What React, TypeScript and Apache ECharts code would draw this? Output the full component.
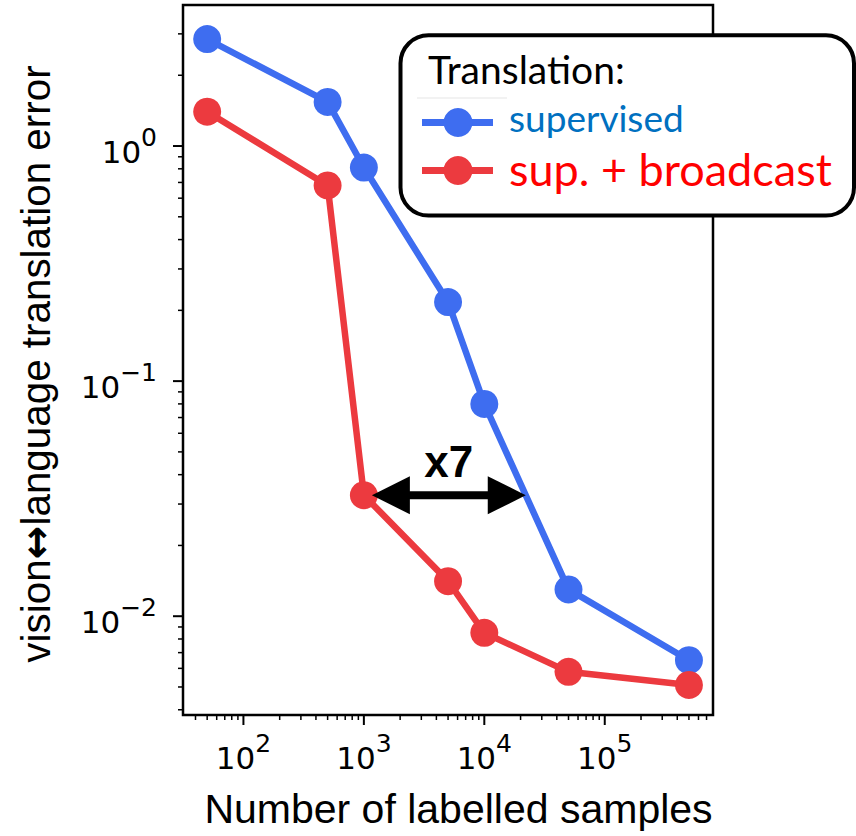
import React, { useEffect, useRef } from 'react';
import * as echarts from 'echarts';

// ---- data ----
const samples = [50, 500, 1000, 5000, 10000, 50000, 500000];
const supervised = [2.85, 1.54, 0.81, 0.217, 0.08, 0.013, 0.0065];
const supBroadcast = [1.4, 0.68, 0.0327, 0.0141, 0.0085, 0.0058, 0.0051];
const seriesNames = ['supervised', 'sup. + broadcast'];
const legendTitle = 'Translation:';
const xTitle = 'Number of labelled samples';
const yTitleLeft = 'vision';
const yTitleArrow = '↔';
const yTitleRight = 'language translation error';
const gapLabel = 'x7';
const gapFromSamples = 1000; // arrow starts at the red point at 10^3
const xMajorExponents = [1, 2, 3, 4, 5];
const yMajorExponents = [-3, -2, -1, 0];
const minorMultipliers = [2, 3, 4, 5, 6, 7, 8, 9];

const X_MIN = 31.5;
const X_MAX = 7.92e5;
const Y_MIN = 0.0038;
const Y_MAX = 3.98;

const BLUE = '#3E6DF0';
const RED = '#EC3A3F';

function logLabel(v: number) {
  const e = Math.log10(v);
  const r = Math.round(e);
  if (Math.abs(e - r) > 1e-6) return '';
  const s = r < 0 ? '\u2212' + Math.abs(r) : String(r);
  return '{b|10}{s|' + s + '}';
}

// tick marks: [x, y, kind] kind 0 x-major, 1 x-minor, 2 y-major, 3 y-minor
function buildTicks() {
  const out: number[][] = [];
  xMajorExponents.forEach((e) => {
    const base = Math.pow(10, e);
    if (base >= X_MIN && base <= X_MAX) out.push([base, Y_MIN, 0]);
    minorMultipliers.forEach((m) => {
      const v = m * base;
      if (v > X_MIN && v < X_MAX) out.push([v, Y_MIN, 1]);
    });
  });
  yMajorExponents.forEach((e) => {
    const base = Math.pow(10, e);
    if (base >= Y_MIN && base <= Y_MAX) out.push([X_MIN, base, 2]);
    minorMultipliers.forEach((m) => {
      const v = m * base;
      if (v > Y_MIN && v < Y_MAX) out.push([X_MIN, v, 3]);
    });
  });
  return out;
}

// where the supervised curve (log-log linear) reaches a given error
function crossingX(target: number) {
  for (let i = 0; i < samples.length - 1; i++) {
    const a = supervised[i], b = supervised[i + 1];
    if ((a - target) * (b - target) <= 0) {
      const t = (Math.log10(target) - Math.log10(a)) / (Math.log10(b) - Math.log10(a));
      const lx = Math.log10(samples[i]) + t * (Math.log10(samples[i + 1]) - Math.log10(samples[i]));
      return Math.pow(10, lx);
    }
  }
  return samples[samples.length - 1];
}

export default function App() {
  const ref = useRef<HTMLDivElement>(null);
  useEffect(() => {
    if (!ref.current) return;
    const chart = echarts.init(ref.current, undefined, { renderer: 'svg' });
    const gi = samples.indexOf(gapFromSamples);
    const gapY = supBroadcast[gi];
    const gapX2 = crossingX(gapY);

    const tickRich = {
      b: { fontFamily: 'DejaVu Sans', fontSize: 31, color: '#000', lineHeight: 42, verticalAlign: 'bottom' },
      s: { fontFamily: 'DejaVu Sans', fontSize: 25, color: '#000', lineHeight: 42, verticalAlign: 'top' },
    };

    const option: any = {
      animation: false,
      backgroundColor: '#fff',
      grid: {
        left: 183,
        right: 856 - 713,
        top: 5,
        bottom: 836 - 715,
        show: true,
        borderColor: '#000',
        borderWidth: 2.5,
        backgroundColor: 'transparent',
      },
      xAxis: {
        type: 'log',
        logBase: 10,
        min: X_MIN,
        max: X_MAX,
        axisLine: { show: false },
        axisTick: { show: false },
        splitLine: { show: false },
        axisLabel: { margin: 16, formatter: logLabel, rich: tickRich },
      },
      yAxis: {
        type: 'log',
        logBase: 10,
        min: Y_MIN,
        max: Y_MAX,
        axisLine: { show: false },
        axisTick: { show: false },
        splitLine: { show: false },
        axisLabel: { margin: 26, formatter: logLabel, rich: tickRich },
      },
      series: [
        {
          type: 'custom',
          name: 'ticks',
          silent: true,
          clip: false,
          encode: { x: 0, y: 1 },
          data: buildTicks(),
          renderItem: (params: any, api: any) => {
            const p = api.coord([api.value(0), api.value(1)]);
            const kind = api.value(2);
            const major = kind % 2 === 0;
            const len = major ? 10 : 5;
            const isX = kind < 2;
            const shape = isX
              ? { x1: p[0], y1: p[1], x2: p[0], y2: p[1] + len }
              : { x1: p[0] - len, y1: p[1], x2: p[0], y2: p[1] };
            return { type: 'line', shape, style: { stroke: '#000', lineWidth: major ? 2 : 1.5 } };
          },
          z: 5,
        },
        {
          type: 'line',
          name: seriesNames[0],
          data: samples.map((x, i) => [x, supervised[i]]),
          symbol: 'circle',
          symbolSize: 28,
          lineStyle: { width: 6.5, color: BLUE },
          itemStyle: { color: BLUE },
          z: 3,
        },
        {
          type: 'line',
          name: seriesNames[1],
          data: samples.map((x, i) => [x, supBroadcast[i]]),
          symbol: 'circle',
          symbolSize: 28,
          lineStyle: { width: 6.5, color: RED },
          itemStyle: { color: RED },
          z: 4,
        },
        {
          type: 'custom',
          name: 'gap',
          silent: true,
          clip: false,
          encode: { x: 0, y: 1 },
          data: [[gapFromSamples, gapY, gapX2]],
          renderItem: (params: any, api: any) => {
            const a = api.coord([api.value(0), api.value(1)]);
            const b = api.coord([api.value(2), api.value(1)]);
            const y = a[1];
            const l = a[0] + 8;
            const r = b[0];
            const hl = 38;
            const hh = 19;
            return {
              type: 'group',
              children: [
                { type: 'line', shape: { x1: l + hl - 2, y1: y, x2: r - hl + 2, y2: y }, style: { stroke: '#000', lineWidth: 8 } },
                { type: 'polygon', shape: { points: [[l, y], [l + hl, y - hh], [l + hl, y + hh]] }, style: { fill: '#000' } },
                { type: 'polygon', shape: { points: [[r, y], [r - hl, y - hh], [r - hl, y + hh]] }, style: { fill: '#000' } },
                {
                  type: 'text',
                  style: {
                    text: gapLabel,
                    x: (l + r) / 2,
                    y: y - 34,
                    align: 'center',
                    verticalAlign: 'middle',
                    fontFamily: 'Liberation Sans',
                    fontWeight: 'bold',
                    fontSize: 44,
                    fill: '#000',
                  },
                },
              ],
            };
          },
          z: 6,
        },
      ],
      graphic: [
        {
          type: 'text',
          x: 458.5,
          y: 809,
          style: { text: xTitle, align: 'center', verticalAlign: 'middle', fontFamily: 'Liberation Sans', fontSize: 41, fill: '#000' },
        },
        {
          type: 'text',
          x: 36,
          y: 364,
          rotation: Math.PI / 2,
          scaleX: 0.985,
          style: {
            text: yTitleLeft + '{a|' + yTitleArrow + '}' + yTitleRight,
            align: 'center',
            verticalAlign: 'middle',
            fontFamily: 'Liberation Sans',
            fontSize: 41,
            fill: '#000',
            rich: { a: { fontFamily: 'DejaVu Sans', fontWeight: 'bold', fontSize: 41, fill: '#000' } },
          },
        },
        {
          type: 'group',
          z: 100,
          children: [
            {
              type: 'rect',
              shape: { x: 400.5, y: 35.3, width: 453.5, height: 180.2, r: 28 },
              style: { fill: '#fff', stroke: '#000', lineWidth: 4 },
            },
            {
              type: 'text',
              x: 428,
              y: 69,
              style: { text: legendTitle, align: 'left', verticalAlign: 'middle', fontFamily: 'Lato', fontSize: 39, fill: '#000' },
            },
            { type: 'line', shape: { x1: 417, y1: 98, x2: 507, y2: 98 }, style: { stroke: '#eeeeee', lineWidth: 1.5 } },
            { type: 'line', shape: { x1: 422, y1: 122.5, x2: 493, y2: 122.5 }, style: { stroke: BLUE, lineWidth: 7 } },
            { type: 'circle', shape: { cx: 458, cy: 122.5, r: 14.5 }, style: { fill: BLUE } },
            {
              type: 'text',
              x: 509,
              y: 117,
              style: { text: seriesNames[0], align: 'left', verticalAlign: 'middle', fontFamily: 'Lato', fontSize: 37, fill: '#0070C0' },
            },
            { type: 'line', shape: { x1: 422, y1: 170.5, x2: 493, y2: 170.5 }, style: { stroke: RED, lineWidth: 7 } },
            { type: 'circle', shape: { cx: 458, cy: 170.5, r: 14.5 }, style: { fill: RED } },
            {
              type: 'text',
              x: 509,
              y: 169,
              style: { text: seriesNames[1], align: 'left', verticalAlign: 'middle', fontFamily: 'Lato', fontSize: 45, fill: '#FF0000' },
            },
          ],
        },
      ],
    };
    chart.setOption(option);
    return () => chart.dispose();
  }, []);
  return (
    <div
      ref={ref}
      style={{ position: 'fixed', left: 0, top: 0, width: 856, height: 836, background: '#fff' }}
    />
  );
}
